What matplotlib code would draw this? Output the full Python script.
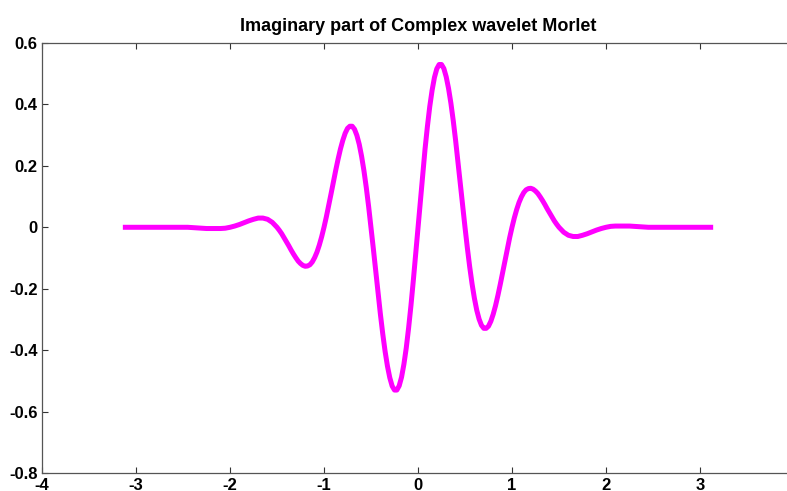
import numpy as np
import matplotlib
matplotlib.use("Agg")
import matplotlib.pyplot as plt

plt.rcParams['font.family'] = ['Liberation Sans', 'DejaVu Sans']
plt.rcParams['font.weight'] = 'bold'
plt.rcParams['axes.unicode_minus'] = False

# samples of the curve (x >= 0 half; the left half mirrors it with sign flipped)
x_right = [0.000, 0.025, 0.050, 0.075, 0.100, 0.125, 0.150, 0.175, 0.200, 0.225,
           0.250, 0.275, 0.300, 0.325, 0.350, 0.375, 0.400, 0.425, 0.450, 0.475,
           0.500, 0.525, 0.550, 0.575, 0.600, 0.625, 0.650, 0.675, 0.700, 0.725,
           0.750, 0.775, 0.800, 0.825, 0.850, 0.875, 0.900, 0.925, 0.950, 0.975,
           1.000, 1.025, 1.050, 1.075, 1.100, 1.125, 1.150, 1.175, 1.200, 1.225,
           1.250, 1.275, 1.300, 1.325, 1.350, 1.375, 1.400, 1.425, 1.450, 1.475,
           1.50, 1.55, 1.60, 1.65, 1.70, 1.75, 1.80, 1.85, 1.90, 1.95,
           2.00, 2.05, 2.10, 2.15, 2.20, 2.25, 2.30, 2.35, 2.40, 2.45,
           2.50, 2.75, 3.00, 3.14]
y_right = [0.000, 0.088, 0.174, 0.255, 0.328, 0.393, 0.446, 0.488, 0.516, 0.530,
           0.530, 0.517, 0.490, 0.452, 0.404, 0.347, 0.283, 0.214, 0.142, 0.070,
           0.000, -0.067, -0.129, -0.184, -0.231, -0.270, -0.299, -0.319, -0.329, -0.329,
           -0.322, -0.306, -0.283, -0.255, -0.222, -0.186, -0.148, -0.109, -0.071, -0.034,
           0.000, 0.031, 0.058, 0.081, 0.099, 0.113, 0.122, 0.126, 0.127, 0.124,
           0.118, 0.110, 0.099, 0.087, 0.074, 0.060, 0.047, 0.034, 0.021, 0.010,
           0.000, -0.016, -0.026, -0.030, -0.030, -0.026, -0.021, -0.015, -0.009, -0.004,
           0.000, 0.003, 0.004, 0.004, 0.004, 0.004, 0.003, 0.002, 0.001, 0.000,
           0.000, 0.000, 0.000, 0.000]

x_ticks = [-4, -3, -2, -1, 0, 1, 2, 3, 4]
y_ticks = [-0.8, -0.6, -0.4, -0.2, 0, 0.2, 0.4, 0.6]
y_labels = ['-0.8', '-0.6', '-0.4', '-0.2', '0', '0.2', '0.4', '0.6']
title = 'Imaginary part of Complex wavelet Morlet'

x = np.concatenate([-np.array(x_right[:0:-1]), x_right])
y = np.concatenate([-np.array(y_right[:0:-1]), y_right])

fig = plt.figure(figsize=(7.87, 4.91), dpi=100)
# the right edge of the axes sits just past the image border, as in the reference
ax = fig.add_axes([42 / 787, 18 / 491, 752 / 787, 430 / 491])
ax.plot(x, y, color='#FF00FF', lw=3.6, solid_joinstyle='round', solid_capstyle='butt')

ax.set_xlim(-4, 4)
ax.set_ylim(-0.8, 0.6)
ax.set_xticks(x_ticks)
ax.set_xticklabels([str(t) for t in x_ticks])
ax.set_yticks(y_ticks)
ax.set_yticklabels(y_labels)
ax.tick_params(direction='in', length=4, width=0.8, colors='#333333',
               labelcolor='black', labelsize=12, top=True, right=True, pad=3)
ax.tick_params(axis='x', pad=3.5)
for sp in ax.spines.values():
    sp.set_color('#555555')
    sp.set_linewidth(0.9)
ax.set_title(title, fontsize=13, fontweight='bold', pad=8.6)

fig.savefig('out.png', dpi=100)
